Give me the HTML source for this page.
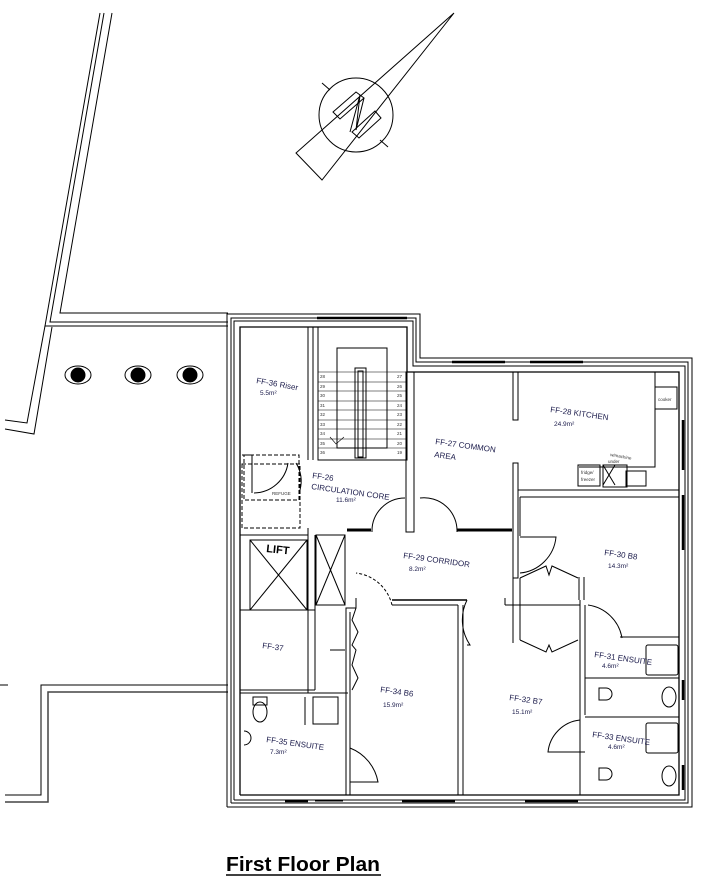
<!DOCTYPE html>
<html><head><meta charset="utf-8"><style>
html,body{margin:0;padding:0;background:#fff;width:703px;height:894px;overflow:hidden}
svg{display:block}
text{font-family:"Liberation Sans",sans-serif}
.l{font-size:8px;fill:#1a1a4a}
.a{font-size:6.5px;fill:#1a1a4a}
</style></head><body>
<svg width="703" height="894" viewBox="0 0 703 894" xmlns="http://www.w3.org/2000/svg">
<g fill="none" stroke="#000" stroke-width="1">
<polyline points="100,13 45,326 228,326"/>
<polyline points="104,13 50,322 228,322"/>
<polyline points="112,13 60,313 228,313"/>
<polyline points="45,326 27,423 5,420"/>
<polyline points="52,327 34,434 5,429"/>
<polyline points="5,795 41,795 41,685 228,685"/>
<polyline points="5,802 48,802 48,692 228,692" stroke="#444" stroke-width="1.5"/>
<line x1="0" y1="685" x2="8" y2="685"/>
<ellipse cx="78" cy="375" rx="13" ry="9"/><ellipse cx="138" cy="375" rx="13" ry="9"/><ellipse cx="190" cy="375" rx="13" ry="9"/>
</g>
<g fill="#000"><circle cx="78" cy="375" r="7.5"/><circle cx="138" cy="375" r="7.5"/><circle cx="190" cy="375" r="7.5"/></g>
<g fill="none" stroke="#000" stroke-width="1">
<circle cx="356" cy="115" r="37"/>
<polyline points="454,13 296,153 322,180 454,13"/>
<line x1="322" y1="83" x2="330" y2="90"/><line x1="380" y1="140" x2="388" y2="147"/>
<polygon points="333,112 356,92 364,98 340,119"/>
<polygon points="352,132 375,111 381,118 359,138"/>
<polyline points="350,132 360,95 356,130 364,98"/>
</g>
<g fill="none" stroke="#000" stroke-width="1">
<polyline points="227,807 227,314 420,314 420,358 692,358 692,807 227,807"/>
<polyline points="231,803 231,318 416,318 416,362 688,362 688,803 231,803"/>
<polyline points="234,800 234,321 413,321 413,366 685,366 685,800 234,800"/>
<polyline points="240,795 240,327 407,327 407,372 679,372 679,795 240,795" stroke-width="1.3"/>
<g stroke-width="2.5"><line x1="317" y1="318" x2="407" y2="318"/><line x1="452" y1="362" x2="505" y2="362"/><line x1="530" y1="362" x2="583" y2="362"/>
<line x1="683" y1="420" x2="683" y2="470"/><line x1="683" y1="495" x2="683" y2="550"/><line x1="683" y1="680" x2="683" y2="700"/><line x1="683" y1="765" x2="683" y2="790"/>
<line x1="285" y1="801" x2="308" y2="801"/><line x1="402" y1="801" x2="455" y2="801"/><line x1="525" y1="801" x2="578" y2="801"/></g>
<polyline points="308,327 308,460"/><polyline points="313,327 313,460"/>
<rect x="318" y="327" width="89" height="133"/>
<rect x="337" y="348" width="50" height="100"/>
<rect x="355" y="368" width="11" height="90"/>
<rect x="358" y="371" width="5" height="86"/>
<g stroke-width="0.6">
<line x1="318" y1="372" x2="407" y2="372"/><line x1="318" y1="382" x2="407" y2="382"/><line x1="318" y1="391" x2="407" y2="391"/>
<line x1="318" y1="401" x2="407" y2="401"/><line x1="318" y1="410" x2="407" y2="410"/><line x1="318" y1="420" x2="407" y2="420"/>
<line x1="318" y1="429" x2="407" y2="429"/><line x1="318" y1="439" x2="407" y2="439"/><line x1="318" y1="448" x2="407" y2="448"/>
<polyline points="330,437 336,444 344,437"/></g>
<rect x="406" y="372" width="8" height="160"/>
<line x1="347" y1="530" x2="371" y2="530" stroke-width="3"/>
<line x1="457" y1="530" x2="512" y2="530" stroke-width="3"/>
<path d="M372,532 A33,33 0 0 1 405,498"/>
<path d="M457,532 A33,33 0 0 0 420,498"/>
<rect x="513" y="372" width="5" height="48"/>
<rect x="513" y="463" width="5" height="115"/>
<line x1="518" y1="490" x2="679" y2="490"/><line x1="520" y1="497" x2="679" y2="497"/>
<line x1="520" y1="497" x2="520" y2="536"/>
<rect x="655" y="387" width="22" height="22"/>
<polyline points="655,372 655,467 579,467"/>
<rect x="578" y="465" width="22" height="21"/>
<rect x="603" y="465" width="24" height="22"/><rect x="626" y="471" width="20" height="15"/>
<line x1="603" y1="465" x2="615" y2="485"/><line x1="615" y1="465" x2="603" y2="485"/>
<path d="M520,537 L556,537 A40,40 0 0 1 520,573"/>
<rect x="244" y="455" width="55" height="45" stroke-dasharray="4,2"/>
<rect x="242" y="464" width="58" height="64" stroke-dasharray="4,2"/>
<path d="M254,493 A35,35 0 0 0 288,463"/>
<polyline points="242,455 252,455 252,493"/>
<path d="M296,463 A35,35 0 0 1 300,490"/>
<line x1="240" y1="535" x2="308" y2="535"/>
<rect x="250" y="540" width="57" height="70"/>
<line x1="250" y1="540" x2="307" y2="610"/><line x1="307" y1="540" x2="250" y2="610"/>
<rect x="316" y="535" width="29" height="70"/>
<line x1="316" y1="535" x2="345" y2="605"/><line x1="345" y1="535" x2="316" y2="605"/>
<line x1="308" y1="528" x2="308" y2="693"/><line x1="315" y1="535" x2="315" y2="690"/>
<line x1="240" y1="610" x2="315" y2="610"/>
<line x1="240" y1="690" x2="315" y2="690"/><line x1="240" y1="693" x2="348" y2="693"/>
<polyline points="356,598 356,608 346,608 346,795"/>
<polyline points="350,612 350,795"/>
<polyline points="345,650 330,650"/>
<polyline points="356,608 352,620 358,632 352,645 356,650 352,665 358,678 352,690"/>
<path d="M392,605 A42,42 0 0 0 356,573" stroke-dasharray="3,2"/>
<line x1="392" y1="600" x2="467" y2="600" stroke-width="1.5"/><line x1="392" y1="605" x2="458" y2="605"/>
<line x1="458" y1="605" x2="458" y2="795"/><line x1="463" y1="605" x2="463" y2="795"/>
<path d="M467,600 A45,45 0 0 0 470,645 L467,645"/>
<!-- wardrobes between B8 and B7 -->
<line x1="505" y1="605" x2="580" y2="605"/><line x1="505" y1="598" x2="505" y2="605"/>
<line x1="513" y1="573" x2="513" y2="643"/><line x1="520" y1="578" x2="520" y2="640"/>
<polyline points="520,578 546,566 549,575 552,566 578,578"/>
<polyline points="520,640 546,652 549,645 552,652 578,640"/>
<line x1="579" y1="577" x2="579" y2="600"/><line x1="584" y1="577" x2="584" y2="600"/>
<line x1="580" y1="600" x2="580" y2="795"/><line x1="585" y1="605" x2="585" y2="715"/>
<path d="M588,605 A40,40 0 0 1 622,638"/>
<line x1="620" y1="637" x2="679" y2="637"/>
<rect x="646" y="645" width="32" height="30" rx="2"/>
<line x1="585" y1="678" x2="679" y2="678"/>
<line x1="585" y1="717" x2="679" y2="717"/>
<path d="M580,720 A36,36 0 0 0 548,752 L585,752"/>
<rect x="646" y="723" width="32" height="30" rx="2"/>
<path d="M599,688 h7 a5,5 0 0 1 0,12 h-7 z"/><path d="M599,768 h7 a5,5 0 0 1 0,12 h-7 z"/>
<ellipse cx="669" cy="697" rx="7" ry="10"/><ellipse cx="669" cy="776" rx="7" ry="10"/>
<ellipse cx="260" cy="712" rx="7" ry="10"/><rect x="253" y="697" width="14" height="8"/>
<rect x="313" y="697" width="25" height="27"/><line x1="305" y1="697" x2="305" y2="725"/>
<path d="M244,731 a6,6 0 0 1 0,14"/>
<path d="M350,748 A45,45 0 0 1 378,782 L350,782"/>
<path d="M315,801 h28"/>
</g>
<g font-family="Liberation Sans" font-size="4.5" fill="#333">
<text x="320" y="378">28</text><text x="320" y="388">29</text><text x="320" y="397">30</text><text x="320" y="407">31</text><text x="320" y="416">32</text><text x="320" y="426">33</text><text x="320" y="435">34</text><text x="320" y="445">35</text><text x="320" y="454">36</text>
<text x="397" y="378">27</text><text x="397" y="388">26</text><text x="397" y="397">25</text><text x="397" y="407">24</text><text x="397" y="416">23</text><text x="397" y="426">22</text><text x="397" y="435">21</text><text x="397" y="445">20</text><text x="397" y="454">19</text>
<text x="658" y="401">cooker</text><text x="581" y="474">fridge/</text><text x="581" y="481">freezer</text>
<text x="610" y="456" transform="rotate(10 610 456)">w/machine</text><text x="608" y="463">under</text>
<text x="272" y="495">REFUGE</text>
</g>
<g class="l">
<text x="256" y="383" transform="rotate(10 256 383)">FF-36 Riser</text><text class="a" x="260" y="395">5.5m²</text>
<text x="312" y="478" transform="rotate(8 312 478)">FF-26</text>
<text x="311" y="489" transform="rotate(8 311 489)">CIRCULATION CORE</text><text class="a" x="336" y="502">11.6m²</text>
<text x="435" y="444" transform="rotate(8 435 444)">FF-27 COMMON</text><text x="434" y="457" transform="rotate(8 434 457)">AREA</text>
<text x="550" y="412" transform="rotate(8 550 412)">FF-28 KITCHEN</text><text class="a" x="554" y="426">24.9m²</text>
<text x="403" y="558" transform="rotate(8 403 558)">FF-29 CORRIDOR</text><text class="a" x="409" y="571">8.2m²</text>
<text x="604" y="555" transform="rotate(8 604 555)">FF-30 B8</text><text class="a" x="608" y="568">14.3m²</text>
<text x="262" y="648" transform="rotate(8 262 648)">FF-37</text>
<text x="380" y="692" transform="rotate(8 380 692)">FF-34 B6</text><text class="a" x="383" y="707">15.9m²</text>
<text x="509" y="700" transform="rotate(8 509 700)">FF-32 B7</text><text class="a" x="512" y="714">15.1m²</text>
<text x="594" y="657" transform="rotate(8 594 657)">FF-31 ENSUITE</text><text class="a" x="602" y="668">4.6m²</text>
<text x="592" y="737" transform="rotate(8 592 737)">FF-33 ENSUITE</text><text class="a" x="608" y="749">4.6m²</text>
<text x="266" y="742" transform="rotate(8 266 742)">FF-35 ENSUITE</text><text class="a" x="270" y="754">7.3m²</text>
</g>
<text x="266" y="552" font-family="Liberation Sans" font-weight="bold" font-size="11" transform="rotate(6 266 552)">LIFT</text>
<text x="226" y="871" font-family="Liberation Sans" font-weight="bold" font-size="20" textLength="154" lengthAdjust="spacingAndGlyphs">First Floor Plan</text>
<line x1="226" y1="875" x2="381" y2="875" stroke="#000" stroke-width="1.5"/>
</svg>
</body></html>
